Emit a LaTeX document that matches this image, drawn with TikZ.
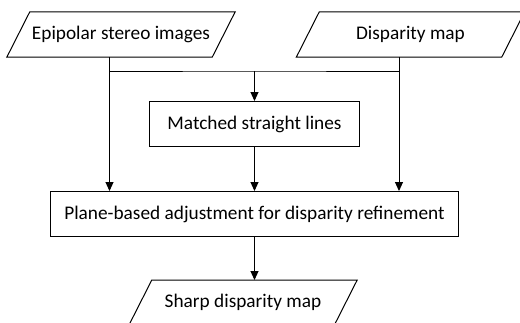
\documentclass[tikz,border=0pt]{standalone}
\usepackage{fontspec}
\setmainfont{Carlito}
\usepackage{tikz}
\usetikzlibrary{positioning, arrows.meta, shapes, calc}

\begin{document}
\begin{tikzpicture}[x=1pt, y=1pt, node distance=44pt, font=\fontsize{19.3}{23}\selectfont]
        \tikzstyle{io} = [rectangle, minimum width=205pt, minimum height=45pt]
        \tikzstyle{block} = [rectangle, draw, minimum height=45pt, line width=1pt]
        \tikzstyle{arrow} = [line width=1pt, -{Triangle[width=8pt, length=9pt]}]
        \tikzstyle{line} = [line width=1pt]

        \clip (0,0) rectangle (520,-322);

        \node [io] (stereo) at (121,-34.5) {Epipolar stereo images};
        \node [io] (dispmap) at (410.5,-34.5) {Disparity map};
        \coordinate (split) at (254.5,-71);
        \node [block, minimum width=210pt, below=30pt of split] (lines) {Matched straight lines};
        \node [block, minimum width=408pt, below=of lines] (plane) {Plane-based adjustment for disparity refinement};
        \node [io, below=43pt of plane, xshift=-11.5pt] (sharp) {Sharp disparity map};

        % slanted outlines for the data nodes
        \foreach \n in {stereo, dispmap, sharp}
            \draw [line] ([xshift=-11.5pt]\n.south west) -- ([xshift=11.5pt]\n.north west)
                -- ([xshift=11.5pt]\n.north east) -- ([xshift=-11.5pt]\n.south east) -- cycle;

        \coordinate (stereo out) at ([xshift=-11.5pt]stereo.south);
        \coordinate (disp out) at ([xshift=-11.5pt]dispmap.south);
        \coordinate (sharp in) at ([xshift=11.5pt]sharp.north);

        \draw [line] (stereo out) |- (split) -| (disp out);
        \draw [arrow] (split) -- (lines);
        \draw [arrow] (stereo out) -- (stereo out |- plane.north);
        \draw [arrow] (disp out) -- (disp out |- plane.north);
        \draw [arrow] (lines) -- (plane);
        \draw [arrow] (plane) -- (sharp in);
    \end{tikzpicture}
\end{document}
